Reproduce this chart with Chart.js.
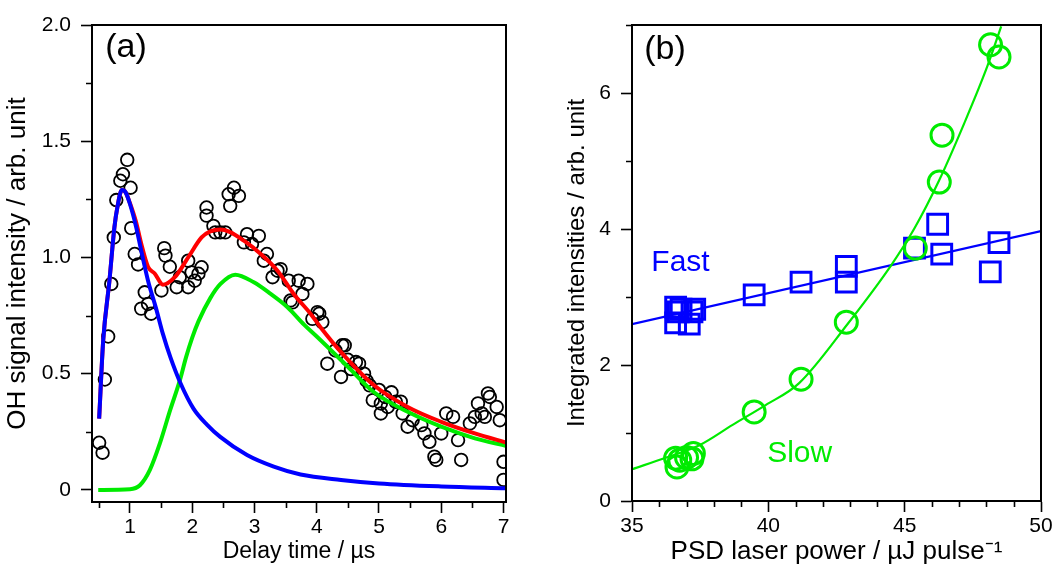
<!DOCTYPE html>
<html>
<head>
<meta charset="utf-8">
<script src="https://cdn.jsdelivr.net/npm/chart.js@4.4.1/dist/chart.umd.min.js"></script>
<style>
  html,body{margin:0;padding:0;background:#fff;}
  #wrap{position:relative;width:1058px;height:582px;}
  #ca{position:absolute;left:0;top:0;}
  #cb{position:absolute;left:520px;top:0;}
</style>
</head>
<body>
<div id="wrap">
<canvas id="ca" width="520" height="582"></canvas>
<canvas id="cb" width="538" height="582"></canvas>
</div>
<script>
// ---------- Panel (a) data ----------
const ohX = [0.505,0.56,0.597,0.65,0.70,0.74,0.78,0.845,0.887,0.956,1.01,1.02,1.076,1.13,1.18,1.237,1.29,1.34,1.505,1.55,1.57,1.64,1.75,1.80,1.935,1.935,1.99,2.04,2.10,2.15,2.23,2.23,2.34,2.37,2.45,2.53,2.585,2.61,2.67,2.75,2.83,2.88,2.96,3.07,3.15,3.20,3.29,3.37,3.42,3.55,3.58,3.61,3.71,3.77,3.85,3.93,4.01,4.04,4.09,4.17,4.30,4.39,4.41,4.45,4.50,4.55,4.63,4.68,4.76,4.80,4.85,4.90,5.00,5.03,5.03,5.10,5.14,5.20,5.27,5.35,5.38,5.46,5.54,5.68,5.73,5.81,5.89,5.92,6.00,6.08,6.19,6.27,6.32,6.46,6.54,6.59,6.65,6.70,6.75,6.78,6.89,6.94,7.00,7.00];
const ohY = [0.203,0.16,0.475,0.66,0.886,1.086,1.247,1.33,1.358,1.42,1.30,1.126,1.015,0.97,0.78,0.85,0.80,0.758,0.858,1.04,1.008,0.96,0.872,0.915,0.986,0.872,0.936,0.90,0.93,0.958,1.215,1.18,1.136,1.108,1.108,1.108,1.272,1.222,1.30,1.265,1.065,1.10,1.058,1.093,0.986,1.015,0.915,0.943,0.95,0.90,0.815,0.807,0.90,0.843,0.886,0.736,0.765,0.758,0.722,0.543,0.60,0.486,0.622,0.622,0.56,0.52,0.55,0.543,0.50,0.47,0.45,0.386,0.43,0.372,0.329,0.40,0.357,0.42,0.379,0.38,0.329,0.272,0.30,0.279,0.243,0.207,0.143,0.129,0.243,0.329,0.314,0.214,0.129,0.286,0.314,0.372,0.329,0.314,0.415,0.40,0.357,0.30,0.121,0.043];

const fastFitX = [0.505,0.57,0.67,0.75,0.80,0.87,0.93,1.0,1.1,1.18,1.29,1.42,1.53,1.65,1.81,2.02,2.24,2.45,2.88,3.31,3.74,4.39,5.0,6.0,7.05];
const fastFitY = [0.307,0.643,0.90,1.13,1.22,1.29,1.28,1.23,1.13,1.03,0.90,0.78,0.67,0.57,0.46,0.35,0.28,0.228,0.15,0.10,0.066,0.043,0.028,0.015,0.007];

const slowFitX = [0.49,1.0,1.16,1.32,1.48,1.645,1.8,1.9,2.0,2.1,2.29,2.45,2.69,2.99,3.26,3.53,3.8,4.0,4.5,4.92,5.46,6.0,6.54,7.05];
const slowFitY = [0.0,0.003,0.02,0.086,0.20,0.343,0.47,0.57,0.655,0.725,0.825,0.885,0.926,0.893,0.843,0.786,0.71,0.66,0.53,0.42,0.336,0.272,0.222,0.189];

const sumFitX = [0.505,0.57,0.67,0.75,0.80,0.87,0.93,1.0,1.1,1.18,1.29,1.40,1.53,1.72,1.935,2.15,2.29,2.45,2.6,2.83,3.10,3.37,3.63,3.90,4.06,4.39,4.92,5.46,6.0,6.54,7.05];
const sumFitY = [0.307,0.643,0.90,1.13,1.22,1.29,1.28,1.233,1.15,1.06,0.96,0.93,0.883,0.915,1.0,1.086,1.112,1.12,1.11,1.072,1.015,0.943,0.843,0.758,0.70,0.593,0.45,0.357,0.293,0.243,0.203];

const xTicksA = [1,2,3,4,5,6,7];
const xMinorA = [0.5,1.5,2.5,3.5,4.5,5.5,6.5];
const yTicksA = [0,0.5,1.0,1.5,2.0];
const yTickLabelsA = ['0','0.5','1.0','1.5','2.0'];
const yMinorA = [0.25,0.75,1.25,1.75];

// ---------- Panel (b) data ----------
const fastPowX = [36.6,36.7,36.6,36.8,37.1,37.2,37.3,39.48,41.2,42.86,42.86,45.36,46.21,46.36,48.14,48.46];
const fastPowY = [2.85,2.78,2.62,2.82,2.6,2.78,2.82,3.03,3.22,3.45,3.22,3.72,4.07,3.63,3.37,3.80];
const slowPowX = [36.6,36.65,36.75,37.0,37.2,37.25,39.48,41.2,42.86,45.39,46.27,46.37,48.15,48.46];
const slowPowY = [0.63,0.50,0.60,0.64,0.62,0.70,1.31,1.79,2.63,3.72,4.69,5.38,6.71,6.53];
const fastLineX = [35,50];
const fastLineY = [2.6,3.97];
const slowLineX = [35,36.26,37.47,38.69,39.9,41.12,42.9,44.51,45.36,46.27,47.18,48.03,48.54];
const slowLineY = [0.466,0.64,0.82,1.12,1.41,1.73,2.6,3.47,4.01,4.72,5.55,6.39,6.98];

const xTicksB = [35,40,45,50];
const xMinorB = [36,37,38,39,41,42,43,44,46,47,48,49];
const yTicksB = [0,2,4,6];
const yMinorB = [1,3,5,7];

// ---------- helpers ----------
const FONT = 'Liberation Sans, Arial, sans-serif';
const BLUE = '#0000ff', RED = '#ff0000', GREEN = 'rgb(0,235,0)';
const TICK_FONT = {family: FONT, size: 21};
const pts = (xs, ys) => xs.map((x, i) => ({x: x, y: ys[i]}));

function framePlugin(minorX, minorY, labels) {
  return {
    id: 'frame',
    afterDraw(chart) {
      const {ctx, chartArea: a} = chart;
      const sx = chart.scales.x, sy = chart.scales.y;
      ctx.save();
      ctx.strokeStyle = '#000';
      ctx.lineWidth = 2;
      ctx.strokeRect(a.left, a.top, a.right - a.left, a.bottom - a.top);
      ctx.lineWidth = 1.6;
      ctx.beginPath();
      minorX.forEach(v => { const p = Math.round(sx.getPixelForValue(v)) + 0.5; ctx.moveTo(p, a.bottom); ctx.lineTo(p, a.bottom + 6); });
      minorY.forEach(v => { const p = Math.round(sy.getPixelForValue(v)) + 0.5; ctx.moveTo(a.left, p); ctx.lineTo(a.left - 6, p); });
      ctx.stroke();
      labels.forEach(l => {
        ctx.font = l.font;
        ctx.fillStyle = l.color;
        ctx.textAlign = 'center';
        ctx.textBaseline = 'middle';
        let x, y;
        if (l.rel) { x = a.left + l.rel[0]; y = a.top + l.rel[1]; }
        else { x = sx.getPixelForValue(l.at[0]); y = sy.getPixelForValue(l.at[1]); }
        ctx.fillText(l.text, x, y);
      });
      ctx.restore();
    }
  };
}

function axisCommon(extra) {
  return Object.assign({
    type: 'linear',
    border: {display: true, color: '#000', width: 2},
    grid: {drawOnChartArea: false, color: '#000', tickColor: '#000', tickLength: 11, tickWidth: 1.6},
  }, extra);
}

const lineDs = (label, xs, ys, color, w) => ({
  type: 'scatter', label, data: pts(xs, ys), showLine: true, borderColor: color, backgroundColor: color,
  borderWidth: w, pointRadius: 0, cubicInterpolationMode: 'monotone', fill: false
});

// ---------- Chart (a) ----------
new Chart(document.getElementById('ca'), {
  type: 'scatter',
  data: {
    datasets: [
      lineDs('fast', fastFitX, fastFitY, BLUE, 4),
      lineDs('sum', sumFitX, sumFitY, RED, 4),
      lineDs('slow', slowFitX, slowFitY, GREEN, 4),
      {label: 'OH', data: pts(ohX, ohY), pointStyle: 'circle', pointRadius: 6.3, pointBorderWidth: 1.8,
       borderColor: '#000', backgroundColor: 'rgba(0,0,0,0)', showLine: false}
    ]
  },
  options: {
    responsive: false, animation: false, devicePixelRatio: 1,
    layout: {padding: {top: 25, right: 14, left: 0, bottom: 0}},
    plugins: {legend: {display: false}, tooltip: {enabled: false}},
    scales: {
      x: axisCommon({
        min: 0.39, max: 7.04,
        afterFit: s => { s.height = 80; },
        afterBuildTicks: s => { s.ticks = xTicksA.map(v => ({value: v})); },
        ticks: {color: '#000', font: TICK_FONT, maxRotation: 0, autoSkip: false, padding: 2,
                callback: v => String(v)},
        title: {display: true, text: 'Delay time / µs', color: '#000', font: {family: FONT, size: 23}, padding: {top: 0, bottom: 17}}
      }),
      y: axisCommon({
        min: -0.052, max: 2.0,
        afterFit: s => { s.width = 92; },
        afterBuildTicks: s => { s.ticks = yTicksA.map(v => ({value: v})); },
        ticks: {color: '#000', font: TICK_FONT, padding: 10,
                callback: (v, i) => yTickLabelsA[i]},
        title: {display: true, text: 'OH signal intensity / arb. unit', color: '#000', font: {family: FONT, size: 26}, padding: {top: 2, bottom: 0}}
      })
    }
  },
  plugins: [framePlugin(xMinorA, yMinorA, [
    {text: '(a)', rel: [34, 23], font: '34px ' + FONT, color: '#000'}
  ])]
});

// ---------- Chart (b) ----------
new Chart(document.getElementById('cb'), {
  type: 'scatter',
  data: {
    datasets: [
      {label: 'slow pts', data: pts(slowPowX, slowPowY), pointStyle: 'circle', pointRadius: 11, pointBorderWidth: 3,
       borderColor: GREEN, backgroundColor: 'rgba(0,0,0,0)', showLine: false},
      lineDs('slow fit', slowLineX, slowLineY, GREEN, 2.2),
      {label: 'fast pts', data: pts(fastPowX, fastPowY), pointStyle: 'rect', pointRadius: 14, pointBorderWidth: 3,
       borderColor: BLUE, backgroundColor: 'rgba(0,0,0,0)', showLine: false},
      Object.assign(lineDs('fast fit', fastLineX, fastLineY, BLUE, 2.2), {cubicInterpolationMode: 'default', tension: 0})
    ]
  },
  options: {
    responsive: false, animation: false, devicePixelRatio: 1,
    layout: {padding: {top: 25, right: 14, left: 0, bottom: 0}},
    plugins: {legend: {display: false}, tooltip: {enabled: false}},
    scales: {
      x: axisCommon({
        min: 35, max: 50,
        afterFit: s => { s.height = 81; },
        afterBuildTicks: s => { s.ticks = xTicksB.map(v => ({value: v})); },
        ticks: {color: '#000', font: TICK_FONT, maxRotation: 0, autoSkip: false, padding: 2,
                callback: v => String(v)},
        title: {display: true, text: 'PSD laser power / µJ pulse⁻¹', color: '#000', font: {family: FONT, size: 26}, padding: {top: 0, bottom: 15}}
      }),
      y: axisCommon({
        min: 0, max: 7,
        afterFit: s => { s.width = 112; },
        afterBuildTicks: s => { s.ticks = yTicksB.map(v => ({value: v})); },
        ticks: {color: '#000', font: TICK_FONT, padding: 10,
                callback: v => String(v)},
        title: {display: true, text: 'Integrated intensities / arb. unit', color: '#000', font: {family: FONT, size: 24}, padding: {top: 43, bottom: 0}}
      })
    }
  },
  plugins: [framePlugin(xMinorB, yMinorB, [
    {text: '(b)', rel: [33, 25], font: '34px ' + FONT, color: '#000'},
    {text: 'Fast', at: [36.78, 3.5], font: '30px ' + FONT, color: BLUE},
    {text: 'Slow', at: [41.15, 0.69], font: '30px ' + FONT, color: GREEN}
  ])]
});
</script>
</body>
</html>
